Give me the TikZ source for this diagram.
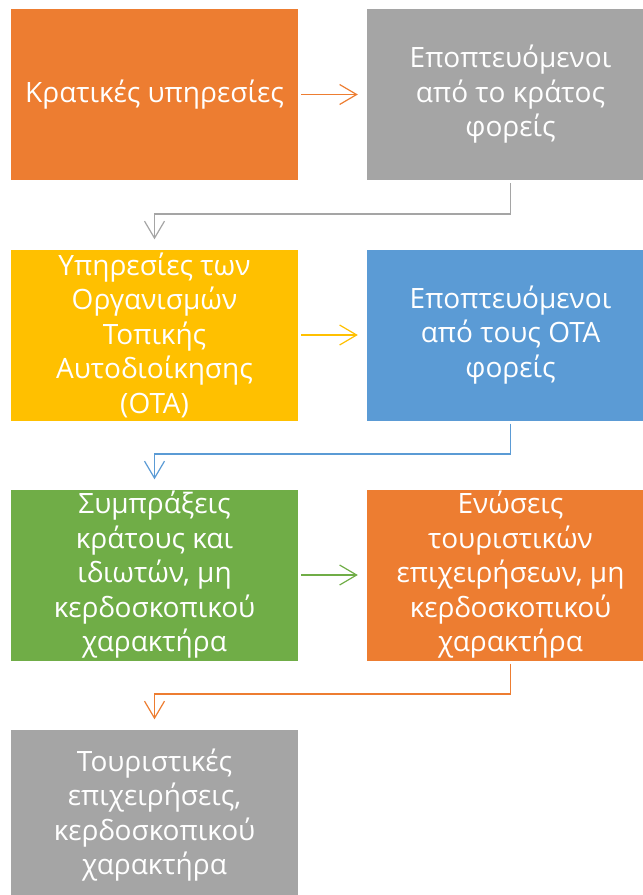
\documentclass[tikz,border=0pt]{standalone}
\usepackage{fontspec}
\setmainfont{Open Sans}
\usetikzlibrary{arrows.meta}
\definecolor{cOrange}{HTML}{ED7D31}
\definecolor{cGray}{HTML}{A5A5A5}
\definecolor{cYellow}{HTML}{FFC000}
\definecolor{cBlue}{HTML}{5B9BD5}
\definecolor{cGreen}{HTML}{70AD47}
\tikzset{
  x=1pt,y=1pt,
  box/.style={minimum width=287pt,minimum height=171pt,inner sep=0pt,draw=none,
    text=white,align=center,font=\fontsize{28}{34.5}\selectfont},
  conn/.style={line width=1.2pt,-{Straight Barb[length=17pt,width=20pt,line width=1.2pt]}},
}
\begin{document}
\begin{tikzpicture}
\useasboundingbox (0,0) rectangle (643,-895);
\clip (0,0) rectangle (643,-895);
\node[box,fill=cOrange] (b1) at (154.5,-94.5) {Κρατικές υπηρεσίες};
\node[box,fill=cGray] (b2) at (510.5,-94.5) {Εποπτευόμενοι\\από το κράτος\\φορείς};
\node[box,fill=cYellow] (b3) at (154.5,-335) {Υπηρεσίες των\\Οργανισμών\\Τοπικής\\Αυτοδιοίκησης\\(ΟΤΑ)};
\node[box,fill=cBlue] (b4) at (510.5,-335) {Εποπτευόμενοι\\από τους ΟΤΑ\\φορείς};
\node[box,fill=cGreen] (b5) at (154.5,-575) {Συμπράξεις\\κράτους και\\ιδιωτών, μη\\κερδοσκοπικού\\χαρακτήρα};
\node[box,fill=cOrange] (b6) at (510.5,-575) {Ενώσεις\\τουριστικών\\επιχειρήσεων, μη\\κερδοσκοπικού\\χαρακτήρα};
\node[box,fill=cGray] (b7) at (154.5,-815) {Τουριστικές\\επιχειρήσεις,\\κερδοσκοπικού\\χαρακτήρα};
\coordinate (k1) at (510.5,-214);
\coordinate (k2) at (154.5,-214);
\coordinate (k3) at (510.5,-454);
\coordinate (k4) at (154.5,-454);
\coordinate (k5) at (510.5,-694);
\coordinate (k6) at (154.5,-694);
\draw[conn,cOrange,shorten <=3pt,shorten >=9pt] (b1.east) -- (b2.west);
\draw[conn,cYellow,shorten <=3pt,shorten >=9pt] (b3.east) -- (b4.west);
\draw[conn,cGreen,shorten <=3pt,shorten >=9pt] (b5.east) -- (b6.west);
\draw[conn,cGray,shorten <=3pt,shorten >=10pt] (b2.south) -- (k1) -- (k2) -- (b3.north);
\draw[conn,cBlue,shorten <=3pt,shorten >=10pt] (b4.south) -- (k3) -- (k4) -- (b5.north);
\draw[conn,cOrange,shorten <=3pt,shorten >=10pt] (b6.south) -- (k5) -- (k6) -- (b7.north);
\end{tikzpicture}
\end{document}
